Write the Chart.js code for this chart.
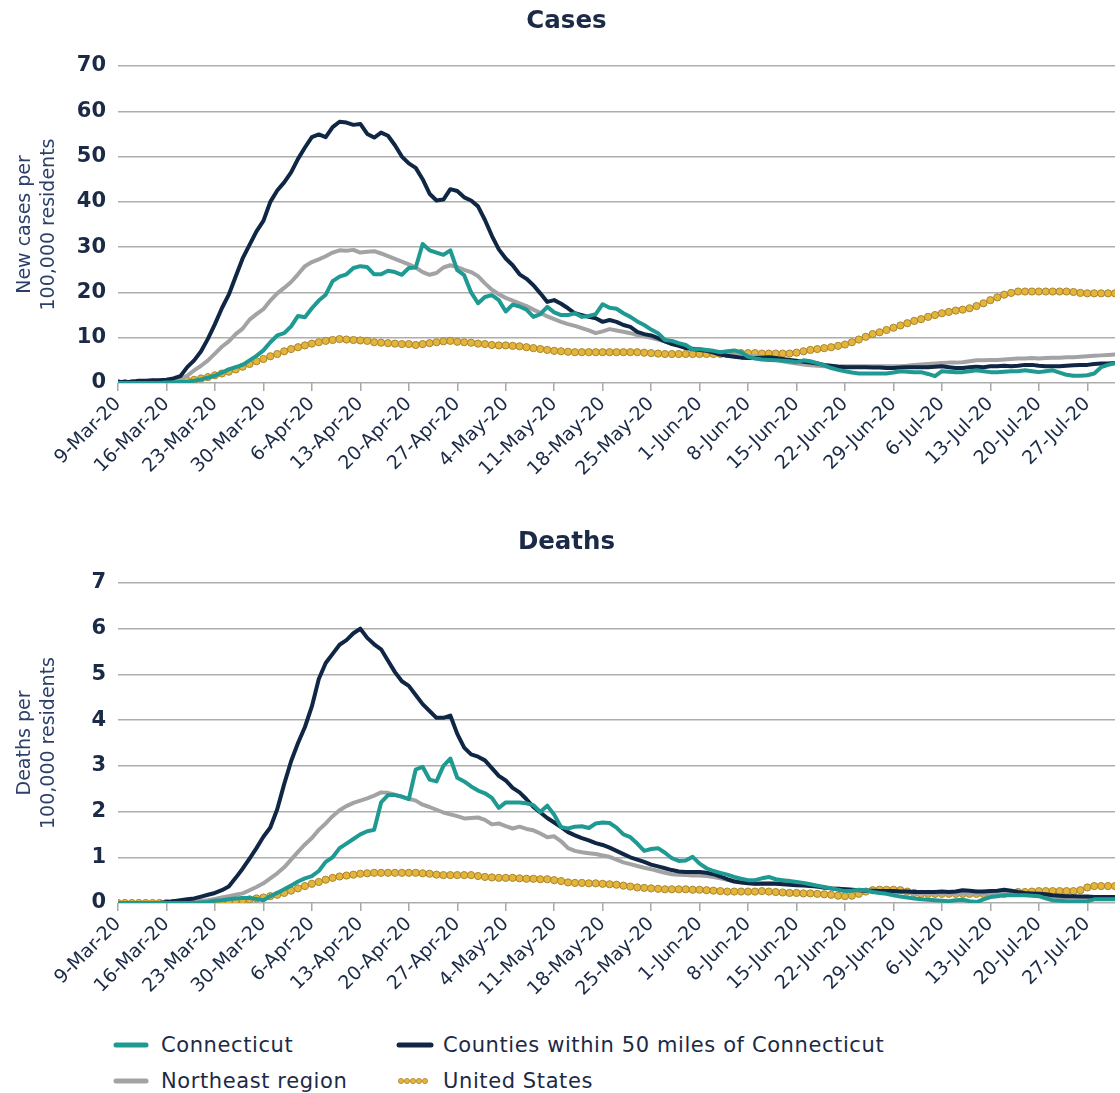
<!DOCTYPE html>
<html>
<head>
<meta charset="utf-8">
<script src="https://cdn.jsdelivr.net/npm/chart.js@4.4.1/dist/chart.umd.min.js"></script>
<style>
  html, body { margin:0; padding:0; background:#ffffff; width:1120px; height:1093px; overflow:hidden; }
  #c1 { position:absolute; left:0; top:0; }
  #c2 { position:absolute; left:0; top:517px; }
  .leg { position:absolute; font-family:"DejaVu Sans", sans-serif; font-size:21px; letter-spacing:0.6px; color:#1b2a47; white-space:nowrap; line-height:24px; }
  .sw { position:absolute; }
</style>
</head>
<body>
<canvas id="c1" width="1120" height="500"></canvas>
<canvas id="c2" width="1120" height="503"></canvas>

<svg class="sw" style="left:113px;top:1041px" width="36" height="8"><line x1="3" y1="4" x2="33" y2="4" stroke="#1f9a92" stroke-width="5" stroke-linecap="round"/></svg>
<div class="leg" style="left:161px;top:1033px">Connecticut</div>
<svg class="sw" style="left:396px;top:1041px" width="38" height="8"><line x1="3" y1="4" x2="35" y2="4" stroke="#0f2644" stroke-width="5" stroke-linecap="round"/></svg>
<div class="leg" style="left:443px;top:1033px">Counties within 50 miles of Connecticut</div>
<svg class="sw" style="left:113px;top:1077px" width="36" height="8"><line x1="3" y1="4" x2="33" y2="4" stroke="#a3a3a5" stroke-width="5" stroke-linecap="round"/></svg>
<div class="leg" style="left:161px;top:1069px">Northeast region</div>
<svg class="sw" style="left:396px;top:1077px" width="38" height="8">
  <circle cx="5" cy="4" r="2.6" fill="#e5b53b" stroke="#a9852b" stroke-width="0.8"/>
  <circle cx="11" cy="4" r="2.6" fill="#e5b53b" stroke="#a9852b" stroke-width="0.8"/>
  <circle cx="17" cy="4" r="2.6" fill="#e5b53b" stroke="#a9852b" stroke-width="0.8"/>
  <circle cx="23" cy="4" r="2.6" fill="#e5b53b" stroke="#a9852b" stroke-width="0.8"/>
  <circle cx="29" cy="4" r="2.6" fill="#e5b53b" stroke="#a9852b" stroke-width="0.8"/>
</svg>
<div class="leg" style="left:443px;top:1069px">United States</div>

<script>
// Weekly tick labels (every 7th day starting 9-Mar-20)
const weekTicks = ['9-Mar-20','16-Mar-20','23-Mar-20','30-Mar-20','6-Apr-20','13-Apr-20','20-Apr-20','27-Apr-20','4-May-20','11-May-20','18-May-20','25-May-20','1-Jun-20','8-Jun-20','15-Jun-20','22-Jun-20','29-Jun-20','6-Jul-20','13-Jul-20','20-Jul-20','27-Jul-20'];
const dayCount = 145; // 9-Mar-20 .. 31-Jul-20
const days = Array.from({length: dayCount}, (_, i) => i);

const casesCT = [0,0,0,0,0,0,0,0.1,0.1,0.2,
0.3,0.5,0.8,1.2,1.6,2.3,3.0,3.5,4.0,5.0,
6.0,7.2,9.0,10.5,11.0,12.5,14.8,14.5,16.5,18.2,
19.5,22.5,23.5,24.0,25.4,25.8,25.6,24.0,24.0,24.8,
24.5,23.9,25.4,25.5,30.7,29.3,28.8,28.3,29.3,24.9,
23.8,20.0,17.6,19.0,19.4,18.3,15.8,17.3,16.9,16.2,
14.6,15.2,16.8,15.6,15.0,15.0,15.4,14.6,14.8,15.2,
17.4,16.6,16.4,15.4,14.6,13.6,12.8,11.8,11.0,9.5,
9.3,8.8,8.4,7.4,7.5,7.3,7.1,6.8,7.0,7.2,
6.8,5.8,5.4,5.2,5.1,5.0,4.9,4.8,4.6,5.0,
4.8,4.4,3.9,3.3,2.9,2.6,2.3,2.1,2.1,2.1,
2.1,2.1,2.3,2.6,2.5,2.4,2.4,2.0,1.5,2.6,
2.5,2.4,2.4,2.6,2.8,2.6,2.4,2.4,2.5,2.6,
2.6,2.8,2.6,2.4,2.6,2.8,2.3,1.8,1.6,1.6,
1.7,2.1,3.5,4.0,4.4];

const casesCounties = [0.2,0.2,0.3,0.5,0.5,0.6,0.6,0.7,1.0,1.5,
3.5,5.0,7.0,9.8,13.0,16.5,19.5,23.5,27.5,30.5,
33.5,35.8,40.0,42.5,44.3,46.5,49.5,52.0,54.3,54.9,
54.3,56.5,57.7,57.5,57.0,57.2,55.0,54.2,55.3,54.6,
52.5,50.0,48.5,47.5,45.0,41.8,40.3,40.5,42.8,42.4,
41.0,40.3,39.0,36.0,32.5,29.5,27.5,26.0,24.0,23.0,
21.6,19.8,17.9,18.3,17.5,16.5,15.4,15.0,14.6,14.3,
13.5,13.9,13.5,12.8,12.4,11.3,10.8,10.5,9.9,9.2,
8.6,8.2,7.7,7.5,7.3,7.1,6.7,6.3,6.0,5.8,
5.6,5.5,5.5,5.6,5.7,5.5,5.3,5.1,4.9,4.7,
4.5,4.3,4.0,3.8,3.6,3.5,3.5,3.5,3.5,3.4,
3.4,3.3,3.3,3.4,3.5,3.5,3.5,3.5,3.6,3.7,
3.5,3.3,3.3,3.5,3.6,3.5,3.7,3.7,3.8,3.7,
3.8,4.0,4.0,3.8,3.7,3.7,3.7,3.8,3.9,4.0,
4.0,4.2,4.3,4.3,4.4];

const casesNortheast = [0.1,0.1,0.1,0.2,0.2,0.2,0.3,0.4,0.5,0.9,
1.6,2.8,3.8,5.0,6.5,8.0,9.2,10.8,12.0,14.0,
15.2,16.3,18.2,19.8,21.0,22.3,24.0,25.8,26.7,27.3,
28.0,28.8,29.3,29.2,29.4,28.8,29.0,29.1,28.6,28.0,
27.4,26.8,26.2,25.5,24.5,23.9,24.3,25.5,26.0,25.6,
25.0,24.5,23.6,22.0,20.6,19.6,18.8,18.2,17.6,17.0,
16.2,15.5,14.7,14.1,13.5,13.0,12.6,12.1,11.6,11.0,
11.4,11.9,11.6,11.3,11.0,10.6,10.3,10.0,9.6,9.2,
8.8,8.3,7.9,7.6,7.4,7.2,7.0,6.7,6.5,6.3,
6.2,6.0,5.9,5.8,5.6,5.2,4.8,4.5,4.3,4.1,
3.9,3.8,3.7,3.7,3.7,3.7,3.7,3.7,3.7,3.7,
3.7,3.7,3.7,3.7,3.8,4.0,4.1,4.2,4.3,4.4,
4.5,4.5,4.6,4.8,5.0,5.0,5.1,5.1,5.2,5.3,
5.4,5.4,5.5,5.4,5.5,5.6,5.6,5.7,5.7,5.8,
5.9,6.0,6.1,6.2,6.3];

const casesUS = [0,0,0,0,0,0.1,0.1,0.2,0.2,0.3,
0.5,0.7,1.0,1.3,1.7,2.1,2.5,3.0,3.6,4.2,
4.8,5.3,5.9,6.4,7.0,7.5,7.9,8.3,8.7,9.0,
9.3,9.5,9.7,9.6,9.5,9.4,9.3,9.0,8.9,8.8,
8.7,8.6,8.6,8.4,8.6,8.8,9.0,9.2,9.3,9.1,
9.0,8.9,8.7,8.6,8.4,8.3,8.3,8.2,8.1,7.9,
7.7,7.5,7.3,7.1,7.0,6.9,6.8,6.8,6.8,6.8,
6.8,6.8,6.8,6.8,6.8,6.8,6.7,6.6,6.5,6.4,
6.4,6.4,6.4,6.4,6.4,6.4,6.4,6.4,6.4,6.5,
6.6,6.6,6.6,6.5,6.5,6.5,6.5,6.5,6.7,7.0,
7.3,7.5,7.7,7.9,8.2,8.5,9.0,9.6,10.2,10.8,
11.2,11.7,12.2,12.7,13.2,13.7,14.1,14.6,15.0,15.4,
15.7,16.0,16.2,16.5,17.0,17.6,18.3,18.9,19.5,19.9,
20.2,20.2,20.2,20.2,20.2,20.2,20.2,20.2,20.1,19.9,
19.8,19.8,19.8,19.8,19.8];

const deathsCT = [0,0,0,0,0,0,0,0,0,0,
0,0,0.01,0.02,0.05,0.06,0.08,0.1,0.11,0.11,
0.09,0.06,0.15,0.22,0.3,0.38,0.47,0.54,0.59,0.7,
0.9,1.0,1.2,1.3,1.4,1.5,1.57,1.6,2.2,2.36,
2.36,2.33,2.27,2.92,2.98,2.7,2.66,3.0,3.16,2.74,
2.66,2.55,2.46,2.4,2.3,2.08,2.2,2.2,2.2,2.18,
2.14,1.99,2.13,1.93,1.66,1.63,1.67,1.68,1.64,1.74,
1.76,1.75,1.65,1.5,1.44,1.3,1.14,1.18,1.2,1.1,
0.98,0.92,0.93,1.01,0.86,0.76,0.7,0.66,0.62,0.57,
0.53,0.5,0.5,0.54,0.57,0.52,0.5,0.48,0.46,0.44,
0.41,0.38,0.35,0.32,0.29,0.26,0.27,0.29,0.28,0.24,
0.22,0.2,0.17,0.14,0.12,0.1,0.08,0.07,0.06,0.05,
0.04,0.06,0.07,0.04,0.02,0.08,0.13,0.15,0.17,0.17,
0.17,0.17,0.16,0.15,0.1,0.06,0.05,0.04,0.04,0.04,
0.04,0.08,0.08,0.08,0.08];

const deathsCounties = [0,0,0,0,0,0,0,0.02,0.04,0.06,
0.08,0.1,0.14,0.18,0.22,0.28,0.36,0.55,0.75,0.97,
1.2,1.45,1.65,2.05,2.6,3.1,3.5,3.85,4.3,4.9,
5.25,5.45,5.65,5.75,5.9,6.0,5.8,5.66,5.55,5.3,
5.05,4.85,4.75,4.55,4.35,4.2,4.05,4.05,4.1,3.7,
3.4,3.25,3.2,3.12,2.95,2.78,2.68,2.52,2.42,2.27,
2.1,1.98,1.86,1.76,1.66,1.55,1.48,1.42,1.37,1.31,
1.27,1.21,1.14,1.07,1.0,0.95,0.9,0.84,0.8,0.76,
0.72,0.69,0.68,0.68,0.68,0.66,0.63,0.58,0.52,0.47,
0.45,0.43,0.42,0.42,0.42,0.42,0.41,0.4,0.39,0.38,
0.37,0.36,0.34,0.32,0.31,0.3,0.29,0.28,0.27,0.27,
0.26,0.26,0.26,0.25,0.25,0.24,0.24,0.24,0.24,0.25,
0.24,0.25,0.28,0.27,0.25,0.25,0.26,0.27,0.29,0.27,
0.24,0.22,0.21,0.2,0.19,0.17,0.16,0.15,0.15,0.14,
0.14,0.13,0.13,0.13,0.13];

const deathsNortheast = [0,0,0,0,0,0,0,0,0,0.01,
0.02,0.03,0.05,0.06,0.09,0.12,0.15,0.18,0.21,0.28,
0.35,0.43,0.54,0.65,0.78,0.95,1.12,1.28,1.42,1.6,
1.74,1.9,2.03,2.12,2.19,2.24,2.29,2.35,2.42,2.41,
2.37,2.32,2.28,2.24,2.15,2.1,2.04,1.98,1.94,1.9,
1.85,1.86,1.87,1.82,1.72,1.74,1.68,1.63,1.67,1.62,
1.59,1.52,1.44,1.46,1.35,1.2,1.14,1.11,1.09,1.07,
1.04,1.01,0.95,0.89,0.85,0.81,0.77,0.74,0.7,0.66,
0.63,0.62,0.61,0.6,0.6,0.59,0.57,0.54,0.51,0.48,
0.46,0.44,0.42,0.43,0.44,0.43,0.43,0.43,0.43,0.41,
0.38,0.36,0.33,0.32,0.31,0.3,0.29,0.28,0.28,0.27,
0.26,0.25,0.25,0.24,0.23,0.22,0.22,0.21,0.21,0.21,
0.21,0.21,0.21,0.21,0.21,0.21,0.21,0.21,0.21,0.21,
0.2,0.19,0.19,0.18,0.16,0.14,0.13,0.13,0.13,0.13,
0.13,0.13,0.13,0.13,0.13];

const deathsUS = [0,0,0,0,0,0,0,0,0,0,
0,0,0.01,0.01,0.02,0.03,0.04,0.05,0.06,0.08,
0.1,0.12,0.15,0.18,0.22,0.27,0.32,0.37,0.42,0.46,
0.51,0.55,0.58,0.6,0.62,0.64,0.65,0.66,0.66,0.66,
0.66,0.66,0.66,0.66,0.65,0.64,0.62,0.61,0.61,0.61,
0.61,0.61,0.59,0.57,0.56,0.55,0.55,0.55,0.54,0.53,
0.53,0.52,0.52,0.5,0.48,0.45,0.44,0.44,0.43,0.43,
0.42,0.41,0.4,0.38,0.36,0.34,0.33,0.32,0.31,0.3,
0.3,0.3,0.3,0.29,0.29,0.28,0.27,0.26,0.25,0.25,
0.25,0.25,0.25,0.26,0.25,0.24,0.23,0.22,0.22,0.21,
0.21,0.2,0.19,0.18,0.16,0.15,0.16,0.2,0.25,0.28,
0.29,0.29,0.29,0.28,0.25,0.22,0.2,0.2,0.2,0.2,
0.2,0.2,0.2,0.2,0.2,0.2,0.2,0.2,0.2,0.22,
0.24,0.24,0.25,0.26,0.26,0.26,0.26,0.26,0.26,0.28,
0.34,0.37,0.37,0.37,0.37];

const NAVY = '#0f2644', TEAL = '#1f9a92', GRAY = '#a3a3a5', GOLD = '#e5b53b', GOLD_EDGE = '#a9852b';
const TEXT = '#1b2a47';

Chart.defaults.font.family = '"DejaVu Sans", sans-serif';
Chart.defaults.color = TEXT;

function makeDatasets(ct, counties, ne, us) {
  const lineBase = { pointRadius: 0, borderWidth: 4, tension: 0, borderJoinStyle: 'round', borderCapStyle: 'round', fill: false };
  return [
    Object.assign({ label: 'Connecticut', data: ct, borderColor: TEAL, backgroundColor: TEAL, order: 1 }, lineBase),
    Object.assign({ label: 'Counties within 50 miles of Connecticut', data: counties, borderColor: NAVY, backgroundColor: NAVY, order: 2 }, lineBase),
    Object.assign({ label: 'Northeast region', data: ne, borderColor: GRAY, backgroundColor: GRAY, order: 3 }, lineBase),
    { label: 'United States', data: us, showLine: false, pointRadius: 3.6, pointBorderWidth: 1,
      pointBackgroundColor: GOLD, pointBorderColor: GOLD_EDGE, borderColor: GOLD, backgroundColor: GOLD, order: 4 }
  ];
}

function makeChart(id, title, titlePadTop, yTitle, yMax, yStep, data) {
  const titleSize = 24.5, titleLH = titleSize * 1.2;
  return new Chart(document.getElementById(id), {
    type: 'line',
    data: { labels: days, datasets: data },
    options: {
      responsive: false,
      animation: false,
      layout: { padding: { left: 13, right: 0, top: 0, bottom: 0 } },
      plugins: {
        legend: { display: false },
        tooltip: { enabled: false },
        title: {
          display: true, text: title, color: TEXT,
          font: { size: titleSize, weight: 'bold', lineHeight: 1.2 },
          padding: { top: titlePadTop, bottom: 66 - titlePadTop - titleLH }
        }
      },
      scales: {
        x: {
          type: 'linear', min: 0, max: dayCount - 1,
          afterBuildTicks: (s) => { s.ticks = weekTicks.map((_, i) => ({ value: i * 7 })); },
          afterFit: (s) => { s.height = 117; },
          ticks: {
            autoSkip: false, minRotation: 45, maxRotation: 45, padding: 2,
            color: TEXT, font: { size: 19 },
            callback: (v) => weekTicks[Math.round(v / 7)]
          },
          grid: { display: true, drawOnChartArea: false, drawTicks: true, tickLength: 8, color: '#a8a8a8', lineWidth: 1.5 },
          border: { display: false }
        },
        y: {
          min: 0, max: yMax,
          afterFit: (s) => { s.width = 105; },
          ticks: { stepSize: yStep, padding: 12, color: TEXT, font: { size: 21, weight: 'bold' } },
          grid: { color: '#adadad', lineWidth: 1.5, drawTicks: false },
          border: { display: false },
          title: { display: true, text: yTitle, color: '#2b3f6b', font: { size: 19, lineHeight: 1.27 }, padding: { top: 0, bottom: 4 } }
        }
      }
    }
  });
}

makeChart('c1', 'Cases', 7.3, ['New cases per', '100,000 residents'], 70, 10,
  makeDatasets(casesCT, casesCounties, casesNortheast, casesUS));
makeChart('c2', 'Deaths', 11.3, ['Deaths per', '100,000 residents'], 7, 1,
  makeDatasets(deathsCT, deathsCounties, deathsNortheast, deathsUS));
</script>
</body>
</html>
